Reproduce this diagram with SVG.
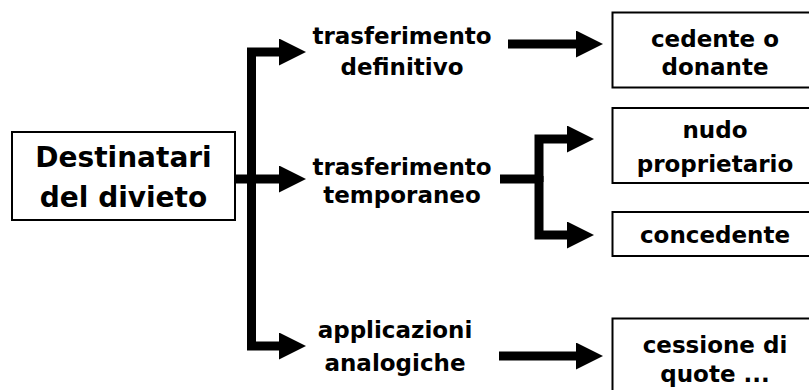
<svg xmlns="http://www.w3.org/2000/svg" width="809" height="390" viewBox="0 0 809 390">
<defs>
<style>
.box{fill:#fff;stroke:#000;stroke-width:2}
.t{font-family:"DejaVu Sans","Verdana",sans-serif;font-weight:bold;font-size:23px;fill:#000;text-anchor:middle}
.big{font-size:28px}
.c{fill:none;stroke:#000;stroke-width:9;stroke-linejoin:miter;stroke-linecap:butt}
.a{marker-end:url(#ah)}
</style>
<marker id="ah" markerUnits="userSpaceOnUse" markerWidth="28" markerHeight="28" refX="0" refY="13.5" orient="auto" viewBox="0 0 28 28">
<path d="M0,0 L27,13.5 L0,27 Z" fill="#000"/>
</marker>
</defs>
<rect width="809" height="390" fill="#fff"/>
<g id="connectors">
<path class="c a" d="M236,179 H279"/>
<path class="c a" d="M251.5,190 V52 H279"/>
<path class="c a" d="M251.5,179 V346 H279"/>
<path class="c a" d="M508,44 H576"/>
<path class="c" d="M500,179 H539"/>
<path class="c a" d="M539,182 V139 H567"/>
<path class="c a" d="M539,176 V235 H567"/>
<path class="c a" d="M499,356 H576"/>
</g>
<g id="destinatari">
<rect class="box" x="12" y="132" width="223" height="88"/>
<text class="t big" x="123.5" y="167">Destinatari</text>
<text class="t big" x="123.5" y="207">del divieto</text>
</g>
<g id="trasf-definitivo">
<text class="t" x="402" y="44">trasferimento</text>
<text class="t" x="402" y="75">definitivo</text>
</g>
<g id="trasf-temporaneo">
<text class="t" x="402" y="175">trasferimento</text>
<text class="t" x="402" y="203">temporaneo</text>
</g>
<g id="applicazioni">
<text class="t" x="395" y="338">applicazioni</text>
<text class="t" x="395" y="371">analogiche</text>
</g>
<g id="cedente">
<rect class="box" x="612.5" y="12.5" width="206" height="75"/>
<text class="t" x="715" y="47">cedente o</text>
<text class="t" x="715" y="75">donante</text>
</g>
<g id="nudo">
<rect class="box" x="612.5" y="108" width="206" height="75"/>
<text class="t" x="715" y="138">nudo</text>
<text class="t" x="715" y="172">proprietario</text>
</g>
<g id="concedente">
<rect class="box" x="612.5" y="212" width="206" height="44"/>
<text class="t" x="715" y="243">concedente</text>
</g>
<g id="cessione">
<rect class="box" x="612.5" y="318.5" width="206" height="80"/>
<text class="t" x="715" y="353">cessione di</text>
<text class="t" x="715" y="382">quote ...</text>
</g>
</svg>
